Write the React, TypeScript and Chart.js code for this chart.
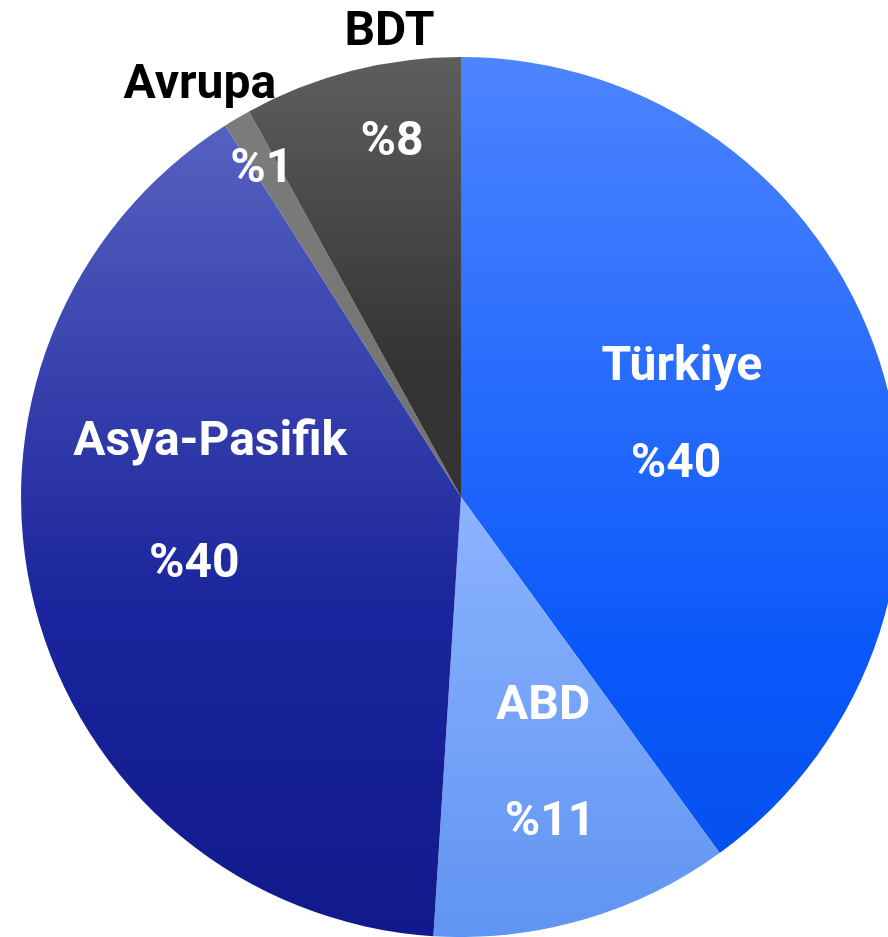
import React, { useEffect, useRef } from "react";
import { Chart, registerables } from "chart.js";

Chart.register(...registerables);

const categories = ["Türkiye", "ABD", "Asya-Pasifik", "Avrupa", "BDT"];
const shares = [40, 11, 40, 1, 8];
// gradient stops (fraction of slice height, colour), top to bottom
const sliceStops: [number, string][][] = [
  [[0, "#4d84ff"], [0.75, "#0a58fa"], [1, "#0550f0"]],
  [[0, "#8cb4ff"], [1, "#6094f2"]],
  [[0, "#5661c0"], [0.6, "#1a249c"], [1, "#111a8c"]],
  [[0, "#7c7c7c"], [1, "#727272"]],
  [[0, "#5e5e5e"], [0.7, "#343434"], [1, "#333333"]],
];

// label placement: angle offset (deg) from slice mid-angle and radius fraction
const namePlacement = [
  { da: -9.9, f: 0.568 },
  { da: -4.1, f: 0.538 },
  { da: 23.9, f: 0.578 },
  { da: -2.6, f: 1.084 },
  { da: 5.4, f: 1.04 },
];
const pctPlacement = [
  { da: 12.7, f: 0.491 },
  { da: 1.45, f: 0.794 },
  { da: -2.3, f: 0.633 },
  { da: -1.7, f: 0.847 },
  { da: 3.0, f: 0.793 },
];

function sliceGradient(ctx: any) {
  const i = ctx.dataIndex;
  if (ctx.type !== "data" || i === undefined) return sliceStops[0][0][1];
  const chart = ctx.chart;
  const area = chart.chartArea;
  if (!area) return sliceStops[i][0][1];
  const cx = (area.left + area.right) / 2;
  const cy = (area.top + area.bottom) / 2;
  const r = Math.min(area.right - area.left, area.bottom - area.top) / 2;
  const total = shares.reduce((a, b) => a + b, 0);
  let start = -Math.PI / 2;
  for (let j = 0; j < i; j++) start += (shares[j] / total) * Math.PI * 2;
  const end = start + (shares[i] / total) * Math.PI * 2;
  let minY = cy;
  let maxY = cy;
  for (let k = 0; k <= 128; k++) {
    const a = start + ((end - start) * k) / 128;
    const y = cy + r * Math.sin(a);
    if (y < minY) minY = y;
    if (y > maxY) maxY = y;
  }
  if (maxY - minY < 1) maxY = minY + 1;
  const g = chart.ctx.createLinearGradient(0, minY, 0, maxY);
  sliceStops[i].forEach(([p, col]) => g.addColorStop(p, col));
  return g;
}

const labelPlugin = {
  id: "sliceLabels",
  afterDatasetsDraw(chart: any) {
    const meta = chart.getDatasetMeta(0);
    const c = chart.ctx;
    c.save();
    c.font = "bold 48px Roboto";
    c.textAlign = "center";
    c.textBaseline = "alphabetic";
    meta.data.forEach((arc: any, i: number) => {
      const { x, y, startAngle, endAngle, outerRadius } = arc.getProps(
        ["x", "y", "startAngle", "endAngle", "outerRadius"],
        true
      );
      const mid = (startAngle + endAngle) / 2;
      const np = namePlacement[i];
      const na = mid + (np.da * Math.PI) / 180;
      c.fillStyle = np.f > 1 ? "#000000" : "#ffffff";
      c.fillText(categories[i], x + Math.cos(na) * outerRadius * np.f, y + Math.sin(na) * outerRadius * np.f);
      const pp = pctPlacement[i];
      const pa = mid + (pp.da * Math.PI) / 180;
      c.fillStyle = "#ffffff";
      c.fillText("%" + shares[i], x + Math.cos(pa) * outerRadius * pp.f, y + Math.sin(pa) * outerRadius * pp.f);
    });
    c.restore();
  },
};

export default function App() {
  const ref = useRef<HTMLCanvasElement>(null);
  useEffect(() => {
    if (!ref.current) return;
    const chart = new Chart(ref.current, {
      type: "pie",
      data: {
        labels: categories,
        datasets: [
          {
            data: shares,
            backgroundColor: sliceGradient as any,
            borderWidth: 0,
          },
        ],
      },
      options: {
        responsive: false,
        animation: false,
        devicePixelRatio: 1,
        layout: { padding: { left: 21, top: 57, right: 9, bottom: 0 } },
        plugins: { legend: { display: false }, tooltip: { enabled: false } },
      },
      plugins: [labelPlugin],
    });
    return () => chart.destroy();
  }, []);
  return (
    <div
      style={{
        position: "fixed",
        left: 0,
        top: 0,
        width: 888,
        height: 937,
        overflow: "hidden",
        background: "#ffffff",
      }}
    >
      <canvas ref={ref} width={910} height={937} style={{ width: 910, height: 937, display: "block" }} />
    </div>
  );
}
